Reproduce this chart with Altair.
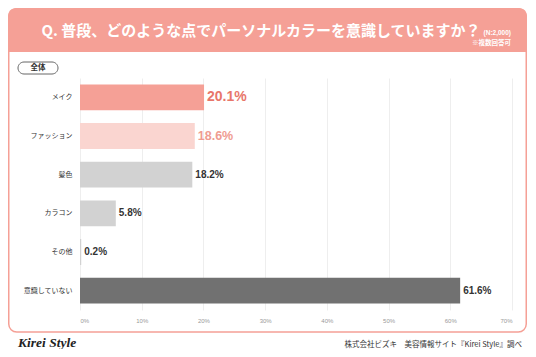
import altair as alt
import pandas as pd

categories = ["メイク", "ファッション", "髪色", "カラコン", "その他", "意識していない"]
values = [20.1, 18.6, 18.2, 5.8, 0.2, 61.6]
x_ticks = [0, 10, 20, 30, 40, 50, 60, 70]

title_text = "Q. 普段、どのような点でパーソナルカラーを意識していますか？"
n_text = "(N:2,000)"
note_text = "※複数回答可"
group_label = "全体"
source_text = "株式会社ビズキ　美容情報サイト『Kirei Style』調べ"
logo_text = "Kirei Style"

bar_colors = ["#F5A096", "#FAD5D0", "#D2D2D2", "#D2D2D2", "#D2D2D2", "#717171"]
SALMON = "#F5A096"
JP = "Noto Sans CJK JP"
NUM = "Liberation Sans, Noto Sans CJK JP"

df = pd.DataFrame({"category": categories, "value": values})
df["label"] = [f"{v:.1f}%" for v in values]

one = pd.DataFrame({"a": [0]})

W, H = 432, 232

panel = alt.Chart(one).mark_rect(
    fill="transparent", stroke=SALMON, strokeWidth=1.5, cornerRadius=8
).encode(x=alt.value(-71.25), x2=alt.value(446.25), y=alt.value(-69.25), y2=alt.value(254))

header = alt.Chart(one).mark_rect(
    fill=SALMON, cornerRadiusTopLeft=8, cornerRadiusTopRight=8
).encode(x=alt.value(-72), x2=alt.value(447), y=alt.value(-70), y2=alt.value(-26))

title = alt.Chart(one).mark_text(
    text=title_text, font=JP, fontSize=15, fontWeight="bold", color="white",
    align="center", baseline="middle"
).encode(x=alt.value(181), y=alt.value(-47))

ntxt = alt.Chart(one).mark_text(
    text=n_text, font=NUM, fontSize=6.5, fontWeight="bold", color="white",
    align="right", baseline="middle"
).encode(x=alt.value(431), y=alt.value(-45))

note = alt.Chart(one).mark_text(
    text=note_text, font=JP, fontSize=6.5, fontWeight="bold", color="white",
    align="right", baseline="middle"
).encode(x=alt.value(431), y=alt.value(-35))

pill = alt.Chart(one).mark_rect(
    fill="white", stroke="#666666", strokeWidth=1, cornerRadius=6
).encode(x=alt.value(-62), x2=alt.value(-22), y=alt.value(-16), y2=alt.value(-4))

pill_txt = alt.Chart(one).mark_text(
    text=group_label, font=JP, fontSize=7.5, fontWeight="bold", color="#333333",
    align="center", baseline="middle"
).encode(x=alt.value(-42), y=alt.value(-10))

logo = alt.Chart(one).mark_text(
    text=logo_text, font="Liberation Serif", fontStyle="italic", fontWeight="bold",
    fontSize=13.5, color="#222222", align="left", baseline="middle"
).encode(x=alt.value(-62), y=alt.value(265))

source = alt.Chart(one).mark_text(
    text=source_text, font=JP, fontSize=7.5, color="#333333",
    align="right", baseline="middle"
).encode(x=alt.value(442), y=alt.value(267))

y_enc = alt.Y(
    "category:N", sort=categories,
    scale=alt.Scale(domain=categories, paddingInner=0.33, paddingOuter=0.165),
    axis=alt.Axis(title=None, domain=False, ticks=False, labelPadding=8,
                  labelFontSize=7, labelColor="#333333", labelFont=JP, grid=False)
)
x_enc = alt.X(
    "value:Q", scale=alt.Scale(domain=[0, 70], nice=False),
    axis=alt.Axis(values=x_ticks, labelExpr="datum.value + '%'", title=None,
                  domain=False, ticks=False, grid=True, gridColor="#EEEEEE",
                  labelFontSize=6, labelColor="#999999", labelPadding=7, labelFont=NUM)
)

bars = alt.Chart(df).mark_bar().encode(
    x=x_enc, y=y_enc,
    color=alt.Color("category:N", scale=alt.Scale(domain=categories, range=bar_colors), legend=None),
)

def label_layer(cats, size, color):
    return alt.Chart(df).transform_filter(
        alt.FieldOneOfPredicate(field="category", oneOf=cats)
    ).mark_text(
        align="left", baseline="middle", dx=3, fontSize=size, fontWeight="bold",
        color=color, font=NUM
    ).encode(x=x_enc, y=y_enc, text="label:N")

t1 = label_layer([categories[0]], 14, "#E8766A")
t2 = label_layer([categories[1]], 12.5, "#EF9C91")
t3 = label_layer(categories[2:], 10, "#333333")

chart = alt.layer(
    panel, header, title, ntxt, note, pill, pill_txt, bars, t1, t2, t3, logo, source
).properties(
    width=W, height=H,
    padding={"left": 72, "top": 70, "right": 16, "bottom": 39},
    autosize=alt.AutoSizeParams(type="none"),
    background="white",
).configure_view(stroke=None)

chart.save("out.html", embed_options={"renderer": "svg", "actions": False})
